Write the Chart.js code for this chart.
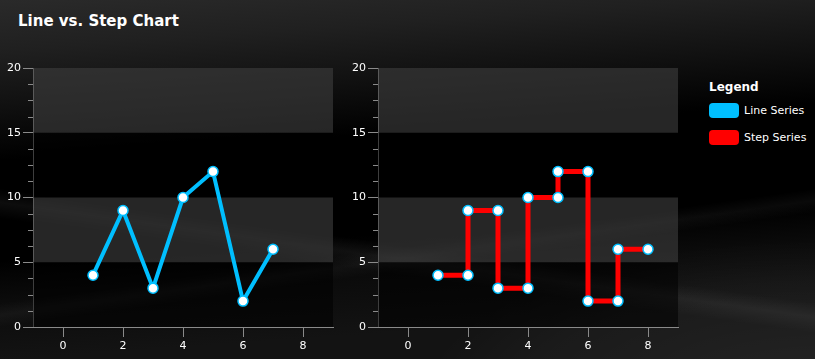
<!DOCTYPE html>
<html>
<head>
<meta charset="utf-8">
<script src="https://cdn.jsdelivr.net/npm/chart.js@4.4.1/dist/chart.umd.min.js"></script>
<style>
  html, body { margin: 0; padding: 0; }
  body {
    width: 815px; height: 359px; overflow: hidden; position: relative;
    font-family: "DejaVu Sans", sans-serif; color: #fff;
    background:
      linear-gradient(172deg, rgba(0,0,0,0) 0px, rgba(0,0,0,0) 300px, rgba(255,255,255,0.04) 312px, rgba(0,0,0,0) 324px),
      linear-gradient(-172deg, rgba(0,0,0,0) 0px, rgba(0,0,0,0) 300px, rgba(255,255,255,0.05) 314px, rgba(0,0,0,0) 330px),
      radial-gradient(ellipse 500px 200px at 820px 400px, rgba(255,255,255,0.08) 0%, rgba(255,255,255,0.03) 60%, rgba(0,0,0,0) 80%),
      linear-gradient(176deg, #2a2a2a 0px, #202020 50px, #121212 100px, #000 160px, #000 260px, #0b0b0b 300px, #131313 359px);
  }
  #title { position: absolute; left: 18px; top: 12px; font-size: 15px; font-weight: bold; }
  .wrap { position: absolute; top: 55px; width: 345px; height: 304px; }
  #legend { position: absolute; left: 709px; top: 80px; font-size: 11px; }
  #legend .head { font-weight: bold; font-size: 12px; margin-bottom: 9px; }
  #legend .item { display: flex; align-items: center; height: 15px; margin-bottom: 12px; }
  #legend .sw { width: 30px; height: 15px; border-radius: 4px; margin-right: 5px; }
</style>
</head>
<body>
<div id="title">Line vs. Step Chart</div>
<div class="wrap" style="left:0px"><canvas id="lineChart"></canvas></div>
<div class="wrap" style="left:345px"><canvas id="stepChart"></canvas></div>
<div id="legend">
  <div class="head">Legend</div>
  <div class="item"><div class="sw" style="background:#00bfff"></div>Line Series</div>
  <div class="item"><div class="sw" style="background:#ff0000"></div>Step Series</div>
</div>
<script>
const xValues = [1, 2, 3, 4, 5, 6, 7];
const lineValues = [4, 9, 3, 10, 12, 2, 6];
const stepValues = [4, 9, 3, 10, 12, 2, 6];
const xTicks = [0, 2, 4, 6, 8];
const yTicks = [0, 5, 10, 15, 20];
const bands = [[15, 20], [5, 10]];

const linePoints = xValues.map((x, i) => ({ x: x, y: lineValues[i] }));
const stepPoints = [];
xValues.forEach((x, i) => {
  stepPoints.push({ x: x, y: stepValues[i] });
  stepPoints.push({ x: x + 1, y: stepValues[i] });
});

const plotBg = {
  id: 'plotBg',
  beforeDatasetsDraw(chart) {
    const { ctx, chartArea: a, scales: { y } } = chart;
    ctx.save();
    ctx.fillStyle = 'rgba(0,0,0,0.55)';
    ctx.fillRect(a.left, a.top, a.right - a.left, a.bottom - a.top);
    ctx.fillStyle = 'rgba(255,255,255,0.15)';
    bands.forEach(b => {
      const t = y.getPixelForValue(b[1]), bt = y.getPixelForValue(b[0]);
      ctx.fillRect(a.left, t, a.right - a.left, bt - t);
    });
    // minor ticks on y axis
    ctx.strokeStyle = '#8a8a8a';
    ctx.lineWidth = 1;
    for (let v = 0; v <= 20; v += 1.25) {
      if (v % 5 === 0) continue;
      const py = Math.round(y.getPixelForValue(v)) + 0.5;
      ctx.beginPath();
      ctx.moveTo(a.left - 5, py);
      ctx.lineTo(a.left, py);
      ctx.stroke();
    }
    ctx.restore();
  }
};

function makeChart(id, label, points, color, width) {
  return new Chart(document.getElementById(id), {
    type: 'line',
    data: {
      datasets: [{
        label: label,
        data: points,
        borderColor: color,
        borderWidth: width,
        pointRadius: 5,
        pointBackgroundColor: '#ffffff',
        pointBorderColor: '#00bfff',
        pointBorderWidth: 1.5,
        tension: 0
      }]
    },
    options: {
      responsive: true,
      maintainAspectRatio: false,
      animation: false,
      layout: { padding: { top: 13, right: 12 } },
      plugins: { legend: { display: false }, tooltip: { enabled: false } },
      scales: {
        x: {
          type: 'linear', min: -1, max: 9,
          afterBuildTicks: s => { s.ticks = xTicks.map(v => ({ value: v })); },
          afterFit: s => { s.height = 32; },
          grid: { drawOnChartArea: false, color: '#8a8a8a', tickLength: 10 },
          border: { color: '#8a8a8a' },
          ticks: { color: '#ffffff', font: { family: 'DejaVu Sans', size: 11 }, padding: 3, maxRotation: 0 }
        },
        y: {
          min: 0, max: 20,
          afterBuildTicks: s => { s.ticks = yTicks.map(v => ({ value: v })); },
          afterFit: s => { s.width = 33; },
          grid: { drawOnChartArea: false, color: '#8a8a8a', tickLength: 10 },
          border: { color: '#8a8a8a' },
          ticks: { color: '#ffffff', font: { family: 'DejaVu Sans', size: 11 }, padding: 2 }
        }
      }
    },
    plugins: [plotBg]
  });
}

makeChart('lineChart', 'Line Series', linePoints, '#00bfff', 4);
makeChart('stepChart', 'Step Series', stepPoints, '#ff0000', 5);
</script>
</body>
</html>
